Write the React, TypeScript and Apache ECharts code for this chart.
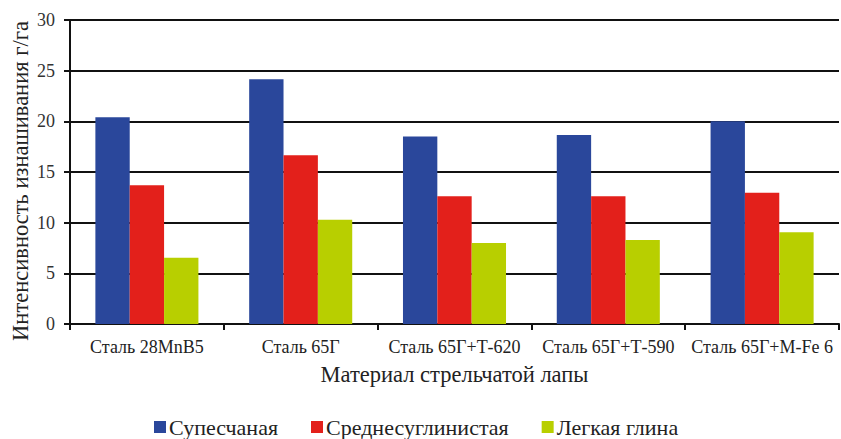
import React, { useEffect, useRef } from "react";
import * as echarts from "echarts";

const categories = ["Сталь 28MnB5", "Сталь 65Г", "Сталь 65Г+Т-620", "Сталь 65Г+Т-590", "Сталь 65Г+М-Fe 6"];
const sandyLoam = [20.4, 24.15, 18.5, 18.65, 20.0];
const mediumLoam = [13.7, 16.65, 12.6, 12.6, 12.95];
const lightClay = [6.55, 10.3, 8.0, 8.3, 9.05];
const seriesNames = ["Супесчаная", "Среднесуглинистая", "Легкая глина"];
const yTitle = "Интенсивность изнашивания г/га";
const xTitle = "Материал стрельчатой лапы";

const FONT = "Times New Roman";

export default function App() {
  const ref = useRef<HTMLDivElement>(null);
  useEffect(() => {
    if (!ref.current) return;
    const chart = echarts.init(ref.current, null, { renderer: "svg" });
    const colors = ["#2a479b", "#e3201b", "#b8cf00"];
    const data = [sandyLoam, mediumLoam, lightClay];
    chart.setOption({
      animation: false,
      textStyle: { fontFamily: FONT, color: "#222" },
      grid: { left: 70, right: 2, top: 20, bottom: 115, containLabel: false, outerBoundsMode: "none" },
      graphic: [
        {
          type: "text",
          x: 20,
          y: 181,
          rotation: Math.PI / 2,
          style: {
            text: yTitle,
            fontFamily: FONT,
            fontSize: 22.5,
            fill: "#222",
            align: "center",
            verticalAlign: "middle",
          },
        },
      ],
      legend: {
        left: 154,
        top: 416,
        padding: 0,
        itemWidth: 12,
        itemHeight: 12,
        itemGap: 33,
        icon: "rect",
        textStyle: { fontFamily: FONT, fontSize: 22, lineHeight: 22, color: "#222", padding: [0, 0, 0, -2] },
        data: seriesNames,
      },
      xAxis: {
        type: "category",
        data: categories,
        name: xTitle,
        nameLocation: "middle",
        nameGap: 39,
        nameTextStyle: { fontFamily: FONT, fontSize: 22.5, color: "#222" },
        axisLine: { lineStyle: { color: "#111", width: 2 } },
        axisTick: { show: true, length: 6, lineStyle: { color: "#111", width: 2 } },
        axisLabel: { fontFamily: FONT, fontSize: 18, color: "#222", margin: 14, interval: 0 },
      },
      yAxis: {
        type: "value",
        min: 0,
        max: 30,
        interval: 5,
        axisLine: { show: true, lineStyle: { color: "#111", width: 2 } },
        axisTick: { show: true, length: 6, lineStyle: { color: "#111", width: 2 } },
        axisLabel: { fontFamily: FONT, fontSize: 18, color: "#333", margin: 15 },
        splitLine: { show: true, lineStyle: { color: "#111", width: 2 } },
      },
      series: seriesNames.map((name, i) => ({
        name,
        type: "bar",
        data: data[i],
        barGap: "0%",
        barCategoryGap: "33%",
        itemStyle: { color: colors[i] },
      })),
    });
    return () => chart.dispose();
  }, []);
  return <div ref={ref} style={{ position: "fixed", left: 0, top: 0, width: 841, height: 439, background: "#fff" }} />;
}
